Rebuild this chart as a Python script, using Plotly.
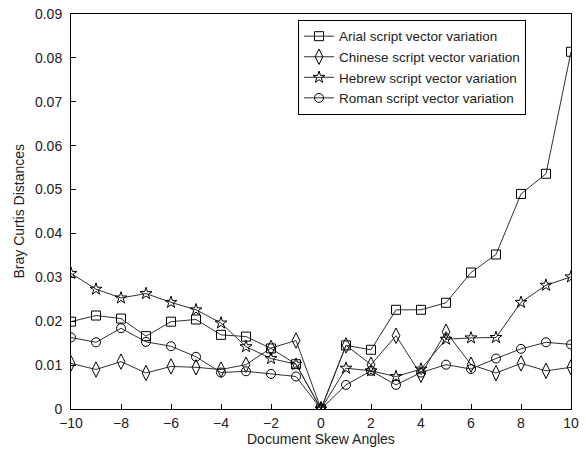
import plotly.graph_objects as go

angles = list(range(-10, 11))
arial = [0.0199, 0.0213, 0.0206, 0.0166, 0.0199, 0.0204, 0.0169, 0.0165, 0.0138, 0.0102, 0.0,
         0.0145, 0.0135, 0.0226, 0.0226, 0.0242, 0.0311, 0.0352, 0.0490, 0.0536, 0.0814]
chinese = [0.0104, 0.0090, 0.0108, 0.0082, 0.0097, 0.0095, 0.0090, 0.0101, 0.0139, 0.0156, 0.0,
           0.0145, 0.0101, 0.0167, 0.0078, 0.0176, 0.0101, 0.0082, 0.0104, 0.0087, 0.0095]
hebrew = [0.0309, 0.0273, 0.0253, 0.0263, 0.0243, 0.0226, 0.0196, 0.0142, 0.0115, 0.0102, 0.0,
          0.0093, 0.0087, 0.0074, 0.0091, 0.0159, 0.0162, 0.0163, 0.0243, 0.0282, 0.0301]
roman = [0.0163, 0.0152, 0.0184, 0.0153, 0.0143, 0.0119, 0.0083, 0.0086, 0.0080, 0.0074, 0.0,
         0.0055, 0.0087, 0.0055, 0.0083, 0.0101, 0.0091, 0.0115, 0.0137, 0.0152, 0.0147]

names = ["Arial script vector variation", "Chinese script vector variation",
         "Hebrew script vector variation", "Roman script vector variation"]
series = [arial, chinese, hebrew, roman]
symbols = ["square-open", "diamond-tall-open", "star-open", "circle-open"]
sizes = [9, 11, 9, 9]

FONT = "Liberation Sans, Arial, sans-serif"

fig = go.Figure()
for n, s, sym, sz in zip(names, series, symbols, sizes):
    fig.add_trace(go.Scatter(
        x=angles, y=s, name=n, mode="lines+markers",
        line=dict(color="#303030", width=1),
        marker=dict(symbol=sym, size=sz, color="black", line=dict(color="black", width=1)),
    ))

axis_common = dict(
    showline=True, linecolor="black", linewidth=1, mirror=True,
    ticks="inside", ticklen=5, tickcolor="black",
    showgrid=False, zeroline=False, automargin=False,
    ticklabeloverflow="allow",
    tickfont=dict(family=FONT, size=14, color="#222"),
)

fig.update_layout(
    width=586, height=452,
    margin=dict(l=71, r=15, t=14, b=43),
    paper_bgcolor="white", plot_bgcolor="white",
    font=dict(family=FONT, size=14, color="#222"),
    xaxis=dict(range=[-10, 10], tickvals=list(range(-10, 11, 2)),
               ticklabelstandoff=1, **axis_common),
    yaxis=dict(range=[0, 0.09], tickvals=[i / 100 for i in range(10)],
               ticktext=["0", "0.01", "0.02", "0.03", "0.04", "0.05", "0.06", "0.07", "0.08", "0.09"],
               ticklabelstandoff=5, **axis_common),
    legend=dict(x=0.454, y=0.985, xanchor="left", yanchor="top",
                bgcolor="white", bordercolor="black", borderwidth=1,
                font=dict(size=13.5, color="#222"), tracegroupgap=0, itemwidth=30),
    showlegend=True,
    annotations=[
        dict(text="Document Skew Angles", xref="paper", yref="paper", x=0.5, y=-0.076,
             xanchor="center", yanchor="middle", showarrow=False, font=dict(size=14)),
        dict(text="Bray Curtis Distances", xref="paper", yref="paper", x=-0.106, y=0.5,
             xanchor="center", yanchor="middle", textangle=-90, showarrow=False, font=dict(size=14)),
    ],
)

fig.write_html("out.html", config={"displayModeBar": False},
               post_script="document.body.style.margin='0';")
